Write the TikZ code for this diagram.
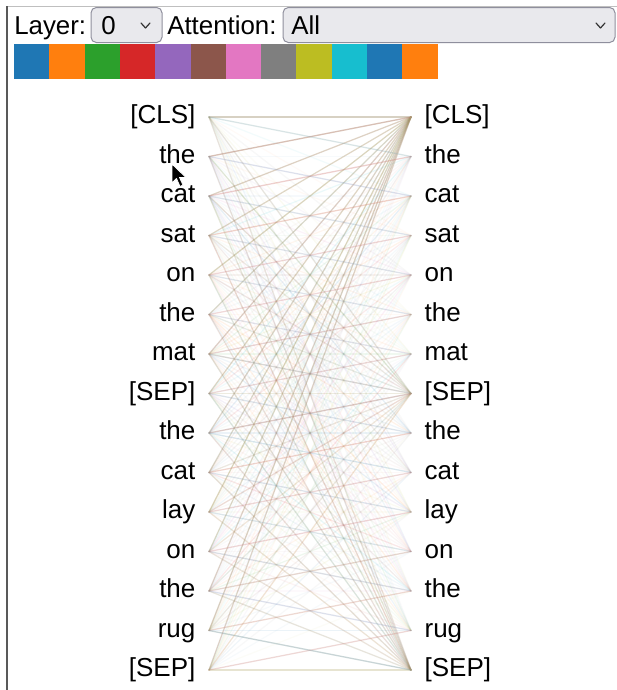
\documentclass[tikz,border=0pt]{standalone}
\usepackage{fontspec}
\setmainfont{Liberation Sans}

% tab10 head colours
\definecolor{head1}{HTML}{1F77B4}
\definecolor{head2}{HTML}{FF7F0E}
\definecolor{head3}{HTML}{2CA02C}
\definecolor{head4}{HTML}{D62728}
\definecolor{head5}{HTML}{9467BD}
\definecolor{head6}{HTML}{8C564B}
\definecolor{head7}{HTML}{E377C2}
\definecolor{head8}{HTML}{7F7F7F}
\definecolor{head9}{HTML}{BCBD22}
\definecolor{head10}{HTML}{17BECF}
\definecolor{head11}{HTML}{1F77B4}
\definecolor{head12}{HTML}{FF7F0E}
\definecolor{menufill}{HTML}{E9E9ED}
\definecolor{menuline}{HTML}{8F8F9D}
\definecolor{clsline}{HTML}{A4946A}
\definecolor{prevline}{HTML}{D08A84}
\definecolor{nextline}{HTML}{8FA8C4}

\tikzset{
  token/.style={inner xsep=10pt, inner ysep=0pt, text height=1.0em, text depth=0pt,
    font=\fontsize{19.5}{23}\selectfont},
  label/.style={inner sep=0pt, font=\fontsize{19.4}{23}\selectfont},
  menu/.style={draw=menuline, fill=menufill, rounded corners=4pt, line width=0.75pt},
  chevron/.style={draw=black!80, line width=0.9pt, line cap=round, line join=round},
  attn/.style={line width=0.9pt, line cap=round},
}

\begin{document}
\begin{tikzpicture}[x=0.75pt, y=-0.75pt]
\useasboundingbox (0,0) rectangle (617,690);
\fill[white] (0,0) rectangle (617,690);

% frame
\draw[black!25, line width=0.75pt] (7,6) -- (617,6);
\draw[black!65, line width=1.5pt] (7,6) -- (7,690);

% controls
\node[label, anchor=base west] (layer) at (14,34) {Layer:};
\draw[menu] (91,7.5) rectangle (162,42.5);
\node[label, anchor=base west] (layerval) at (101,34) {0};
\draw[chevron] (141,23) -- (145.5,28) -- (150,23);
\node[label, anchor=base west] (attention) at (167,34) {Attention:};
\draw[menu] (283,7.5) rectangle (615,42.5);
\node[label, anchor=base west] (attnval) at (291,34) {All};
\draw[chevron] (596,23) -- (600.5,28) -- (605,23);

% head swatches
\foreach \n in {1,...,12} {
  \fill[head\n] ({14+35.3*(\n-1)},44) rectangle ({14+35.3*\n},79);
}

% tokens
\foreach \tok [count=\k from 0] in {{[CLS]},the,cat,sat,on,the,mat,{[SEP]},the,cat,lay,on,the,rug,{[SEP]}} {
  \pgfmathsetmacro{\y}{117+39.5*\k}
  \node[token, anchor=east] (l\k) at (209,\y) {\tok};
  \node[token, anchor=west] (r\k) at (411,\y) {\tok};
}

% attention lines, all heads
\pgfmathsetseed{17}
\foreach \i in {0,...,14} {
  \foreach \j in {0,...,14} {
    \pgfmathsetmacro{\w}{0.03+0.08*rnd^2}
    \pgfmathtruncatemacro{\h}{random(1,12)}
    \draw[attn, draw=head\h, draw opacity=\w] (l\i.east) -- (r\j.west);
  }
}
% everything looks at [CLS] and [SEP]
\foreach \i in {0,...,14} {
  \draw[attn, draw=clsline, draw opacity=0.35] (l\i.east) -- (r0.west);
  \draw[attn, draw=clsline, draw opacity=0.15] (l\i.east) -- (r7.west);
  \draw[attn, draw=clsline, draw opacity=0.2] (l\i.east) -- (r14.west);
}
% previous / next token
\foreach \i in {1,...,14} {
  \pgfmathtruncatemacro{\k}{\i-1}
  \draw[attn, draw=prevline, draw opacity=0.3] (l\i.east) -- (r\k.west);
  \draw[attn, draw=nextline, draw opacity=0.25] (l\k.east) -- (r\i.west);
}

% mouse pointer
\draw[fill=black, draw=white, line width=0.6pt, line join=round]
  (172,164) -- (172,183) -- (176.5,178.5) -- (180,186.5) -- (183,185) -- (179.5,177.5) -- (186,177.5) -- cycle;
\end{tikzpicture}
\end{document}
